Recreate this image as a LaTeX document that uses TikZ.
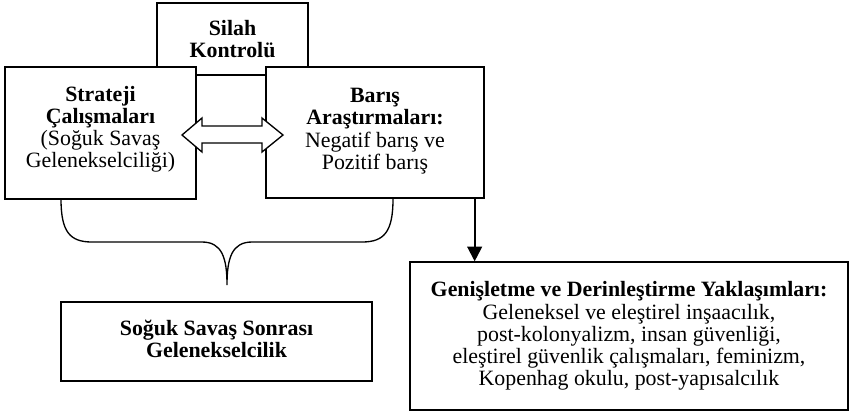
\documentclass[tikz,border=0pt]{standalone}
\usepackage{fontspec}
\setmainfont{Liberation Serif}
\usetikzlibrary{arrows.meta, calc}

\begin{document}
\begin{tikzpicture}[x=0.75pt, y=-0.75pt,
  every node/.style={font=\fontsize{16.4}{16.6}\selectfont},
  box/.style={draw, line width=1pt, fill=white, inner sep=0pt},
  boxtext/.style={align=center, inner sep=0pt}]
\useasboundingbox (0,0) rectangle (849,412);

\node[box, minimum width=113.25pt, minimum height=54pt, align=center] (silah) at (232.5,39)
  {\textbf{Silah}\\\textbf{Kontrolü}};
\node[box, minimum width=143.25pt, minimum height=99pt,
  label={[boxtext, yshift=3pt]center:{\textbf{Strateji}\\\textbf{Çalışmaları}\\(Soğuk Savaş\\Gelenekselciliği)}}]
  (strateji) at (100.5,133) {};
\node[box, minimum width=163.5pt, minimum height=98.25pt,
  label={[boxtext, yshift=1pt]center:{\textbf{Barış}\\\textbf{Araştırmaları:}\\Negatif barış ve\\Pozitif barış}}]
  (baris) at (375,132.5) {};
\node[box, minimum width=233.25pt, minimum height=59.25pt,
  label={[boxtext, yshift=2pt]center:{\textbf{Soğuk Savaş Sonrası}\\\textbf{Gelenekselcilik}}}]
  (sonrasi) at (216.5,341.5) {};
\node[box, minimum width=328.5pt, minimum height=111pt, align=center] (genisletme) at (629,336)
  {\textbf{Genişletme ve Derinleştirme Yaklaşımları:}\\Geleneksel ve eleştirel inşaacılık,\\post-kolonyalizm, insan güvenliği,\\eleştirel güvenlik çalışmaları, feminizm,\\Kopenhag okulu, post-yapısalcılık};

\draw[line width=1pt, fill=white] (182,135) -- (202,118) -- (202,126) -- (262,126) -- (262,118)
  -- (283,135) -- (262,152) -- (262,143) -- (202,143) -- (202,152) -- cycle;

\draw[line width=1pt] (61,199) .. controls (61,232) and (70,242) .. (92,242) -- (202,242)
  .. controls (222,242) and (227,258) .. (227,285)
  .. controls (227,258) and (232,242) .. (252,242) -- (362,242)
  .. controls (384,242) and (393,232) .. (393,199);

\coordinate (drop) at ($(baris.south east)+(-10,0)$);
\draw[line width=1.5pt, -{Triangle[length=11pt, width=11pt]}] (drop) -- (drop |- genisletme.north);
\end{tikzpicture}
\end{document}
